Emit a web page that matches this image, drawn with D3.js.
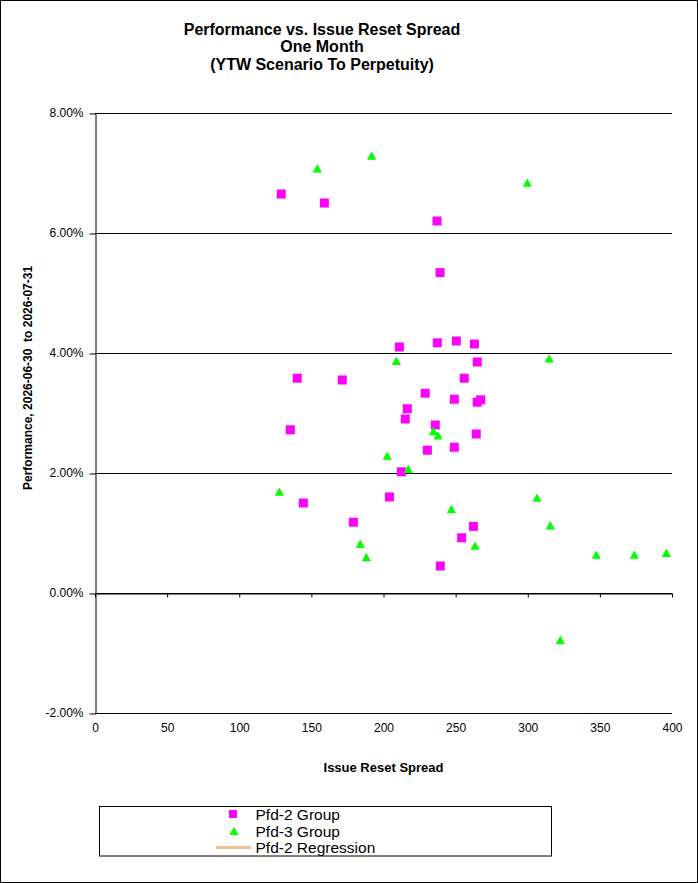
<!DOCTYPE html>
<html>
<head>
<meta charset="utf-8">
<script src="https://cdn.jsdelivr.net/npm/d3@7"></script>
<style>
  body { margin: 0; background: #fff; }
  svg text { font-family: Arial, "Liberation Sans", sans-serif; fill: #000; }
</style>
</head>
<body>
<div id="chart"></div>
<script>
// values
const titleLines = ["Performance vs. Issue Reset Spread", "One Month", "(YTW Scenario To Perpetuity)"]
const xTitle = "Issue Reset Spread"
const yTitle = "Performance, 2026-06-30  to 2026-07-31"

const xTicks = [0, 50, 100, 150, 200, 250, 300, 350, 400]
const yTicks = [-2, 0, 2, 4, 6, 8]

// Pfd-2 group (issue reset spread, performance %)
const pfd2Spread = [129.1, 159.0, 237.1, 239.2, 211.0, 237.3, 250.5, 263.0, 265.0, 140.2,
                    171.4, 256.0, 228.9, 249.1, 265.0, 267.4, 216.5, 215.1, 135.4, 235.9,
                    264.3, 230.4, 249.1, 212.4, 204.1, 144.4, 179.1, 262.3, 254.2, 239.4]
const pfd2Perf   = [6.65, 6.50, 6.20, 5.34, 4.10, 4.17, 4.20, 4.15, 3.85, 3.58,
                    3.55, 3.58, 3.33, 3.23, 3.18, 3.22, 3.07, 2.90, 2.72, 2.80,
                    2.65, 2.38, 2.43, 2.02, 1.60, 1.50, 1.18, 1.11, 0.92, 0.45]

// Pfd-3 group
const pfd3Spread = [154.1, 191.8, 299.7, 314.9, 208.9, 234.6, 237.8, 202.6, 217.2, 127.8,
                    306.4, 247.0, 315.6, 263.5, 183.9, 188.1, 347.5, 373.9, 396.1, 322.6]
const pfd3Perf   = [7.07, 7.28, 6.83, 3.90, 3.86, 2.69, 2.62, 2.28, 2.06, 1.68,
                    1.58, 1.39, 1.12, 0.78, 0.81, 0.59, 0.63, 0.63, 0.66, -0.79]

const legendLabels = ["Pfd-2 Group", "Pfd-3 Group", "Pfd-2 Regression"]
const colors = { pfd2: "#FF00FF", pfd3: "#00FF00", regression: "#F4C08F" }

const W = 698, H = 883
const plot = { left: 95, right: 672, top: 113, bottom: 713 }

const svg = d3.select('#chart').append('svg')
    .attr('width', W)
    .attr('height', H)

svg.append('rect')
    .attr('x', 0.5).attr('y', 0.5)
    .attr('width', W - 1).attr('height', H - 1)
    .attr('fill', '#fff').attr('stroke', '#000')

const x = d3.scaleLinear().domain([0, 400]).range([plot.left, plot.right])
const y = d3.scaleLinear().domain([-2, 8]).range([plot.bottom, plot.top])

// title
svg.append('g').selectAll('text')
    .data(titleLines)
    .enter()
    .append('text')
    .attr('x', 322)
    .attr('y', (d, i) => 34.5 + i * 17.8)
    .attr('text-anchor', 'middle')
    .style('font-size', '16px')
    .style('font-weight', 'bold')
    .text(d => d)

// gridlines
svg.append('g').selectAll('line')
    .data(yTicks)
    .enter()
    .append('line')
    .attr('x1', plot.left).attr('x2', plot.right)
    .attr('y1', d => Math.round(y(d)) + 0.5)
    .attr('y2', d => Math.round(y(d)) + 0.5)
    .attr('stroke', '#000')
    .attr('stroke-width', 1)

// y axis
const yAxis = svg.append('g')
    .attr('transform', `translate(${plot.left + 0.5},0)`)
    .call(d3.axisLeft(y).tickValues(yTicks).tickSize(6).tickSizeOuter(0).tickPadding(6)
        .tickFormat(d => d.toFixed(2) + '%'))
yAxis.selectAll('text').style('font-size', '12px').style('font-family', 'Arial, "Liberation Sans", sans-serif')
yAxis.selectAll('line, path').attr('stroke', '#000')
yAxis.selectAll('.tick line').attr('transform', 'translate(0,0.5)')

// x axis line and ticks at zero
const xAxis = svg.append('g')
    .attr('transform', `translate(0,${Math.round(y(0)) + 0.5})`)
    .call(d3.axisBottom(x).tickValues(xTicks).tickSize(4).tickSizeOuter(0).tickFormat(''))
xAxis.selectAll('line, path').attr('stroke', '#000')

// x tick labels below the plot
const xLabels = svg.append('g')
    .attr('transform', `translate(0,${plot.bottom})`)
    .call(d3.axisBottom(x).tickValues(xTicks).tickSize(0).tickPadding(10))
xLabels.select('.domain').remove()
xLabels.selectAll('text').style('font-size', '12px').style('font-family', 'Arial, "Liberation Sans", sans-serif')

// axis titles
svg.append('text')
    .attr('x', (plot.left + plot.right) / 2)
    .attr('y', 772)
    .attr('text-anchor', 'middle')
    .style('font-size', '13px')
    .style('font-weight', 'bold')
    .text(xTitle)

svg.append('text')
    .attr('transform', 'translate(32,490) rotate(-90)')
    .attr('text-anchor', 'start')
    .style('font-size', '12px')
    .style('font-weight', 'bold')
    .style('white-space', 'pre')
    .text(yTitle)

// points
const pfd2 = pfd2Spread.map((s, i) => ({ s: s, p: pfd2Perf[i] }))
const pfd3 = pfd3Spread.map((s, i) => ({ s: s, p: pfd3Perf[i] }))

svg.append('g').selectAll('rect')
    .data(pfd2)
    .enter()
    .append('rect')
    .attr('x', d => x(d.s) - 4.5)
    .attr('y', d => y(d.p) - 4.5)
    .attr('width', 9)
    .attr('height', 9)
    .attr('fill', colors.pfd2)

const tri = 'M0,-4.8L4.6,3.6L-4.6,3.6Z'
svg.append('g').selectAll('path')
    .data(pfd3)
    .enter()
    .append('path')
    .attr('d', tri)
    .attr('transform', d => `translate(${x(d.s)},${y(d.p)})`)
    .attr('fill', colors.pfd3)

// legend
const legend = svg.append('g')
legend.append('rect')
    .attr('x', 99.5).attr('y', 806.5)
    .attr('width', 452).attr('height', 49.5)
    .attr('fill', '#fff').attr('stroke', '#000')

const rowY = [814, 831.5, 847.5]
legend.append('rect')
    .attr('x', 229).attr('y', rowY[0] - 4)
    .attr('width', 8).attr('height', 8)
    .attr('fill', colors.pfd2)
legend.append('path')
    .attr('d', tri)
    .attr('transform', `translate(234,${rowY[1]})`)
    .attr('fill', colors.pfd3)
legend.append('line')
    .attr('x1', 216).attr('x2', 251)
    .attr('y1', rowY[2]).attr('y2', rowY[2])
    .attr('stroke', colors.regression)
    .attr('stroke-width', 3)

legend.selectAll('text')
    .data(legendLabels)
    .enter()
    .append('text')
    .attr('x', 255.5)
    .attr('y', (d, i) => rowY[i] + 5.5)
    .style('font-size', '15.5px')
    .text(d => d)
</script>
</body>
</html>
